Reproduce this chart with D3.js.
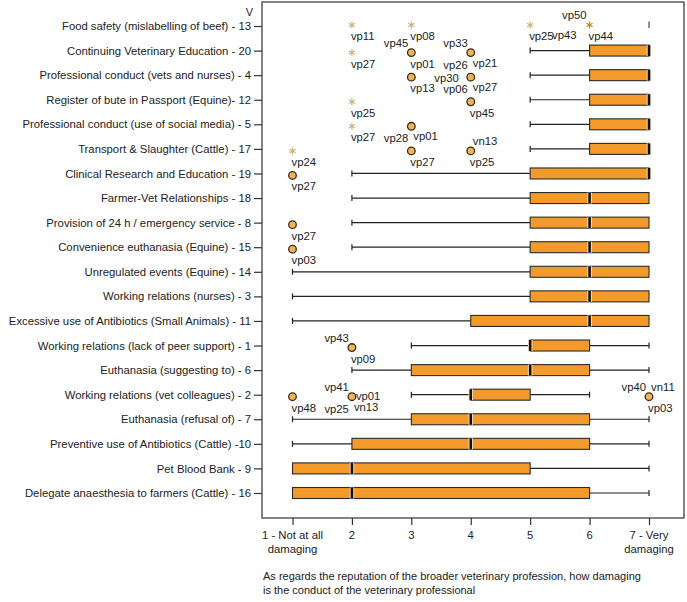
<!DOCTYPE html>
<html><head><meta charset="utf-8">
<script src="https://cdn.jsdelivr.net/npm/d3@7/dist/d3.min.js"></script>
<style>body{margin:0;background:#fff;} text{font-family:"Liberation Sans",Arial,sans-serif;}</style>
</head><body><svg id="c" width="687" height="602"></svg>
<script>
const categories = [
 "Food safety (mislabelling of beef) - 13",
 "Continuing Veterinary Education - 20",
 "Professional conduct (vets and nurses) - 4",
 "Register of bute in Passport (Equine)- 12",
 "Professional conduct (use of social media) - 5",
 "Transport & Slaughter (Cattle) - 17",
 "Clinical Research and Education - 19",
 "Farmer-Vet Relationships - 18",
 "Provision of 24 h / emergency service - 8",
 "Convenience euthanasia (Equine) - 15",
 "Unregulated events (Equine) - 14",
 "Working relations (nurses) - 3",
 "Excessive use of Antibiotics (Small Animals) - 11",
 "Working relations (lack of peer support) - 1",
 "Euthanasia (suggesting to) - 6",
 "Working relations (vet colleagues) - 2",
 "Euthanasia (refusal of) - 7",
 "Preventive use of Antibiotics (Cattle) -10",
 "Pet Blood Bank - 9",
 "Delegate anaesthesia to farmers (Cattle) - 16"
];
const whiskerLow  = [7,5,5,5,5,5,2,2,2,2,1,1,1,3,2,3,1,1,1,1];
const q1          = [7,6,6,6,6,6,5,5,5,5,5,5,4,5,3,4,3,2,1,1];
const median      = [7,7,7,7,7,7,7,6,6,6,6,6,6,5,5,4,4,4,2,2];
const q3          = [7,7,7,7,7,7,7,7,7,7,7,7,7,6,6,5,6,6,5,6];
const whiskerHigh = [7,7,7,7,7,7,7,7,7,7,7,7,7,7,7,6,7,7,7,7];
const xTickValues = [1,2,3,4,5,6,7];
const xTickLabels = [["1 - Not at all","damaging"],["2"],["3"],["4"],["5"],["6"],["7 - Very","damaging"]];
const xTitle = ["As regards the reputation of the broader veterinary profession, how damaging","is the conduct of the veterinary professional"];
// outliers: [category index, value, kind ("extreme" star / "circle"), labels [text, placement]]
const outliers = [
 [0,2,"extreme",[["vp11","b"]]],
 [0,3,"extreme",[["vp08","b"]]],
 [0,5,"extreme",[["vp25","b"]]],
 [0,6,"extremeMulti",[["vp50","al"],["vp43","bll"],["vp44","b"]]],
 [1,2,"extreme",[["vp27","b"]]],
 [1,3,"circle",[["vp45","al"],["vp01","b"]]],
 [1,4,"circle",[["vp33","al"],["vp26","bl"],["vp21","br"]]],
 [2,3,"circle",[["vp13","b"]]],
 [2,4,"circle",[["vp30","l"],["vp06","bl"],["vp27","br"]]],
 [3,2,"extreme",[["vp25","b"]]],
 [3,4,"circle",[["vp45","b"]]],
 [4,2,"extreme",[["vp27","b"]]],
 [4,3,"circle",[["vp01","br"],["vp28","bl"]]],
 [5,1,"extreme",[["vp24","b"]]],
 [5,3,"circle",[["vp27","b"]]],
 [5,4,"circle",[["vn13","ar"],["vp25","b"]]],
 [6,1,"circle",[["vp27","b"]]],
 [8,1,"circle",[["vp27","b"]]],
 [9,1,"circle",[["vp03","b"]]],
 [13,2,"circle",[["vp43","al"],["vp09","b"]]],
 [15,1,"circle",[["vp48","b"]]],
 [15,2,"circle",[["vp41","al"],["vp01","r"],["vp25","bl"],["vn13","br"]]],
 [15,7,"circle",[["vp40","al"],["vn11","ar"],["vp03","b"]]]
];

// ---- layout / style ----
const svg = d3.select("#c");
const m = {left:262, top:2, right:3, bottom:84};
const W = 687 - m.left - m.right, H = 602 - m.top - m.bottom;
const g = svg.append("g").attr("transform",`translate(${m.left},${m.top})`);
const x = d3.scaleLinear().domain([1,7]).range([30.5,387]);
const y = d3.scalePoint().domain(d3.range(categories.length)).range([24,491]);
const boxH = 11, capH = 6;
const txt = "#222";
const place = {
 b:  {a:"start", dx:-1, dy:15},
 br: {a:"start", dx:2, dy:14},
 bl: {a:"end", dx:-3, dy:16},
 bll:{a:"end", dx:-13, dy:14},
 al: {a:"end", dx:-3, dy:-6},
 ar: {a:"start", dx:2, dy:-6},
 l:  {a:"end", dx:-12, dy:5},
 r:  {a:"start", dx:4, dy:3}
};

// frame
g.append("rect").attr("x",0).attr("y",0).attr("width",W).attr("height",H)
 .attr("fill","none").attr("stroke","#333").attr("stroke-width",1.2);

// y axis
const yAxis = d3.axisLeft(y).tickSize(8).tickPadding(3).tickFormat(i=>categories[i]);
const ya = g.append("g").call(yAxis);
ya.select(".domain").remove();
ya.selectAll("line").attr("stroke","#333").attr("stroke-width",1.2);
ya.selectAll("text").attr("fill",txt).attr("font-size",11.3);
g.append("text").attr("x",-9).attr("y",14).attr("text-anchor","end").attr("fill",txt).attr("font-size",11).text("V");

// x axis
const xAxis = d3.axisBottom(x).tickValues(xTickValues).tickSize(7).tickFormat("");
const xa = g.append("g").attr("transform",`translate(0,${H})`).call(xAxis);
xa.select(".domain").remove();
xa.selectAll("line").attr("stroke","#333").attr("stroke-width",1.2);
xTickValues.forEach((v,i)=>{
  const t = g.append("text").attr("x",x(v)).attr("y",H+21).attr("text-anchor","middle").attr("fill",txt).attr("font-size",11.3);
  xTickLabels[i].forEach((s,j)=>t.append("tspan").attr("x",x(v)).attr("dy",j?14:0).text(s));
});
const tt = g.append("text").attr("x",1).attr("y",H+62).attr("fill",txt).attr("font-size",11);
xTitle.forEach((s,j)=>tt.append("tspan").attr("x",1).attr("dy",j?14:0).text(s));

// boxes
categories.forEach((c,i)=>{
  const cy = y(i);
  const bg = g.append("g");
  if (whiskerLow[i] < q1[i]) {
    bg.append("line").attr("x1",x(whiskerLow[i])).attr("x2",x(q1[i])).attr("y1",cy).attr("y2",cy).attr("stroke","#222").attr("stroke-width",1.2);
    bg.append("line").attr("x1",x(whiskerLow[i])).attr("x2",x(whiskerLow[i])).attr("y1",cy-capH/2).attr("y2",cy+capH/2).attr("stroke","#222").attr("stroke-width",1.2);
  }
  if (whiskerHigh[i] > q3[i]) {
    bg.append("line").attr("x1",x(q3[i])).attr("x2",x(whiskerHigh[i])).attr("y1",cy).attr("y2",cy).attr("stroke","#222").attr("stroke-width",1.2);
    bg.append("line").attr("x1",x(whiskerHigh[i])).attr("x2",x(whiskerHigh[i])).attr("y1",cy-capH/2).attr("y2",cy+capH/2).attr("stroke","#222").attr("stroke-width",1.2);
  }
  if (q3[i] > q1[i]) {
    bg.append("rect").attr("x",x(q1[i])).attr("y",cy-boxH/2).attr("width",x(q3[i])-x(q1[i])).attr("height",boxH)
      .attr("fill","#F39A2A").attr("stroke","#2a2a2a").attr("stroke-width",1.1);
    bg.append("line").attr("x1",x(median[i])).attr("x2",x(median[i])).attr("y1",cy-boxH/2).attr("y2",cy+boxH/2).attr("stroke","#fbe0b8").attr("stroke-width",4.5);
    bg.append("line").attr("x1",x(median[i])).attr("x2",x(median[i])).attr("y1",cy-boxH/2).attr("y2",cy+boxH/2).attr("stroke","#111").attr("stroke-width",2.6);
  } else {
    bg.append("line").attr("x1",x(median[i])).attr("x2",x(median[i])).attr("y1",cy-boxH/2+1).attr("y2",cy+2).attr("stroke","#555").attr("stroke-width",1.3);
  }
});

// outliers
const starPath = d3.symbol(d3.symbolAsterisk, 34)();
outliers.forEach(([ci,v,kind,labs])=>{
  const px = x(v), py = y(ci) + (ci===0 ? -1 : 2);
  if (kind==="circle") {
    g.append("circle").attr("cx",px).attr("cy",py).attr("r",3.8).attr("fill","#EFB45A").attr("stroke","#3a2a10").attr("stroke-width",1.3);
  } else {
    g.append("path").attr("d",starPath).attr("transform",`translate(${px},${py})`)
      .attr("fill","none").attr("stroke", kind==="extremeMulti" ? "#C8832C" : "#CDB27A").attr("stroke-width",1.2);
  }
  labs.forEach(([t,p])=>{
    const P = place[p];
    g.append("text").attr("x",px+P.dx).attr("y",py+P.dy).attr("text-anchor",P.a).attr("fill",txt).attr("font-size",11.3).text(t);
  });
});
</script></body></html>
